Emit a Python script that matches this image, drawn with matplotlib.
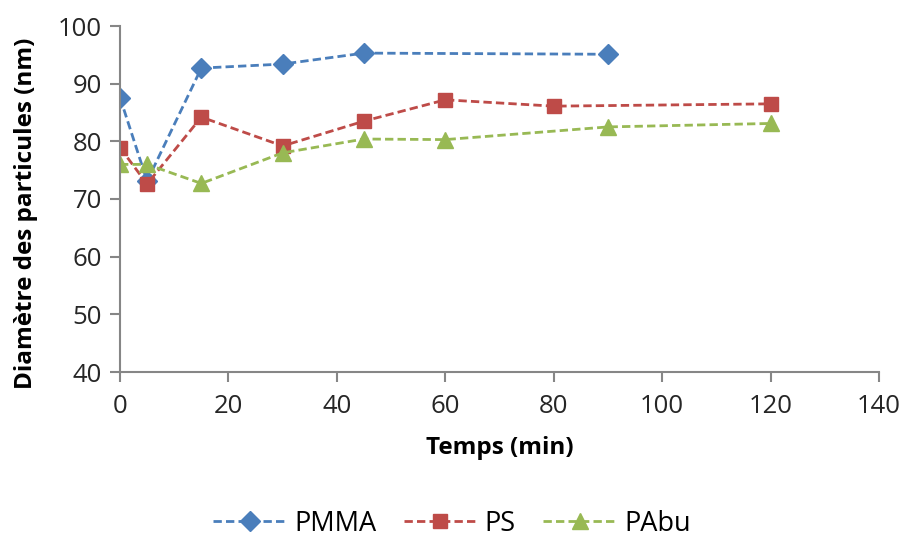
import matplotlib
matplotlib.use("Agg")
import matplotlib.pyplot as plt

# data
t_pmma = [0, 5, 15, 30, 45, 90]
d_pmma = [87.6, 73.1, 92.7, 93.4, 95.3, 95.1]

t_ps = [0, 5, 15, 30, 45, 60, 80, 120]
d_ps = [78.9, 72.6, 84.2, 79.2, 83.5, 87.2, 86.1, 86.5]

t_pabu = [0, 5, 15, 30, 45, 60, 90, 120]
d_pabu = [76.0, 76.0, 72.7, 78.0, 80.4, 80.3, 82.5, 83.1]

x_ticks = [0, 20, 40, 60, 80, 100, 120, 140]
y_ticks = [40, 50, 60, 70, 80, 90, 100]

plt.rcParams['font.family'] = ['Open Sans', 'DejaVu Sans']

fig = plt.figure(figsize=(9.04, 5.38), dpi=100)
ax = fig.add_axes([120/904, 1 - 372/538, (879-120)/904, (372-26)/538])

ax.plot(t_pmma, d_pmma, '--', color='#4A7EBB', lw=2, marker='D', ms=10.5,
        label='PMMA', dashes=(3, 1.5))
ax.plot(t_ps, d_ps, '--', color='#BE4B48', lw=2, marker='s', ms=9.5,
        label='PS', dashes=(3, 1.5))
ax.plot(t_pabu, d_pabu, '--', color='#98B954', lw=2, marker='^', ms=12,
        label='PAbu', dashes=(3, 1.5))

ax.set_xlim(0, 140)
ax.set_ylim(40, 100)
ax.set_xticks(x_ticks)
ax.set_yticks(y_ticks)

for s in ['top', 'right']:
    ax.spines[s].set_visible(False)
for s in ['left', 'bottom']:
    ax.spines[s].set_color('#868686')
    ax.spines[s].set_linewidth(1.5)
ax.tick_params(colors='#868686', labelcolor='#262626', labelsize=18.5,
               length=7, width=1.5, direction='out')
ax.tick_params(axis='x', pad=9)
ax.tick_params(axis='y', pad=6)
ax.margins(0)

ax.set_xlabel('Temps (min)', fontsize=17.5, fontweight='bold', labelpad=12)
ax.set_ylabel('Diamètre des particules (nm)', fontsize=17.5, fontweight='bold')
ax.yaxis.set_label_coords(-0.108, 0.46)

fig.legend(loc='lower center', bbox_to_anchor=(0.5, -0.045), ncol=3, frameon=False,
           fontsize=19.5, handlelength=2.7, handletextpad=0.3, columnspacing=1.0)

fig.savefig('out.png', dpi=100)
